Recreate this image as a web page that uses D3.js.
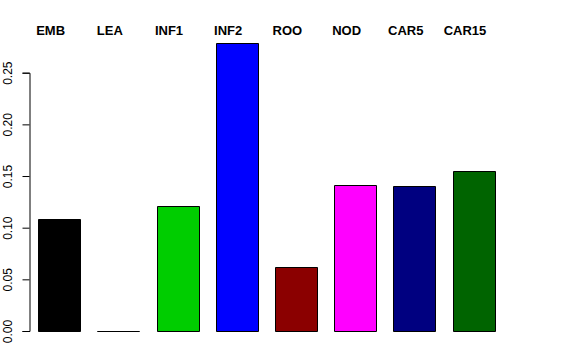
<!DOCTYPE html>
<html>
<head>
<meta charset="utf-8">
<script src="https://cdn.jsdelivr.net/npm/d3@7"></script>
<style>
  html, body { margin: 0; padding: 0; background: #fff; }
  svg { display: block; font-family: "Liberation Sans", Arial, Helvetica, sans-serif; }
</style>
</head>
<body>
<script>
const categories = ["EMB", "LEA", "INF1", "INF2", "ROO", "NOD", "CAR5", "CAR15"];
const values = [0.108, 0.0, 0.1212, 0.2788, 0.0616, 0.1415, 0.1405, 0.155];
const barColors = ["#000000", "#FF0000", "#00CD00", "#0000FF", "#8B0000", "#FF00FF", "#000080", "#006400"];
const yTicks = [0, 0.05, 0.10, 0.15, 0.20, 0.25];

const W = 576, H = 360;
const svg = d3.select("body").append("svg").attr("width", W).attr("height", H);

const y = d3.scaleLinear().domain([0, 0.25]).range([331, 72.7]);
const x = d3.scaleBand().domain(categories).range([29, 504]).paddingInner(0.29).paddingOuter(0.157);

// bars drawn as closed paths so that zero-height bars still show their outline
svg.append("g").selectAll("path").data(categories).join("path")
  .attr("d", (d, i) => {
    const x0 = Math.round(x(d)) + 0.5;
    const w = Math.round(x.bandwidth());
    const yb = Math.round(y(0)) + 0.5;
    const yt = Math.round(y(values[i])) + 0.5;
    const p = d3.path();
    p.moveTo(x0, yb); p.lineTo(x0, yt); p.lineTo(x0 + w, yt); p.lineTo(x0 + w, yb); p.closePath();
    return p.toString();
  })
  .attr("fill", (d, i) => barColors[i])
  .attr("stroke", "#000")
  .attr("stroke-width", 1);

// y axis
const axis = d3.axisLeft(y).tickValues(yTicks).tickFormat(d3.format(".2f")).tickSizeOuter(0).tickSize(7);
const gA = svg.append("g").attr("transform", "translate(29.5,0)").call(axis);
gA.select(".domain").attr("stroke", "#000");
gA.selectAll(".tick line").attr("stroke", "#000");
gA.selectAll(".tick text")
  .attr("font-size", 12)
  .attr("fill", "#000")
  .attr("text-anchor", "middle")
  .attr("transform", "rotate(-90)")
  .attr("x", 0)
  .attr("y", -17.5)
  .attr("dy", 0);

// category labels on top
svg.append("g").selectAll("text").data(categories).join("text")
  .attr("x", d => x(d) + x.bandwidth() / 2 - 8.7)
  .attr("y", 35)
  .attr("text-anchor", "middle")
  .attr("font-size", 13)
  .attr("font-weight", "bold")
  .attr("fill", "#000")
  .text(d => d);
</script>
</body>
</html>
